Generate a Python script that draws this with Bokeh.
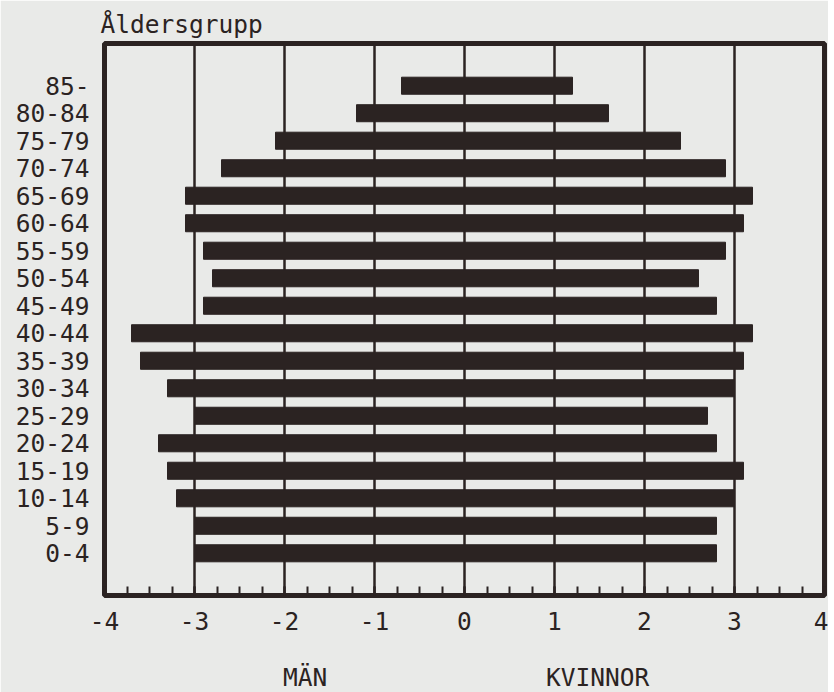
from bokeh.plotting import figure
from bokeh.models import FactorRange, FixedTicker, LinearAxis, Range1d
from bokeh.embed import file_html
from bokeh.resources import INLINE

ages = ["0-4", "5-9", "10-14", "15-19", "20-24", "25-29", "30-34", "35-39", "40-44",
        "45-49", "50-54", "55-59", "60-64", "65-69", "70-74", "75-79", "80-84", "85-"]
men = [3.0, 3.0, 3.2, 3.3, 3.4, 3.0, 3.3, 3.6, 3.7, 2.9, 2.8, 2.9, 3.1, 3.1, 2.7, 2.1, 1.2, 0.7]
women = [2.8, 2.8, 3.0, 3.1, 2.8, 2.7, 3.0, 3.1, 3.2, 2.8, 2.6, 2.9, 3.1, 3.2, 2.9, 2.4, 1.6, 1.2]
x_ticks = [-4, -3, -2, -1, 0, 1, 2, 3, 4]
x_tick_labels = ["-4", "-3", "-2", "-1", "0", "1", "2", "3", "4"]
sex_labels = {-1.77: "MÄN", 1.48: "KVINNOR"}
title_text = "Åldersgrupp"

INK = "#2b2322"
PAPER = "#e9eae8"
FONT = "DejaVu Sans Mono"
FS = "24.5px"

p = figure(
    y_range=FactorRange(factors=ages, range_padding=1.035, range_padding_units="absolute"),
    x_range=Range1d(-4, 4),
    frame_width=720, frame_height=552,
    min_border_left=104, min_border_right=4, min_border_top=43, min_border_bottom=88,
    output_backend="svg", toolbar_location=None,
    background_fill_color=PAPER, border_fill_color=PAPER,
    title=title_text,
)

p.title.text_font = FONT
p.title.text_font_size = FS
p.title.text_font_style = "normal"
p.title.text_color = INK
p.title.align = "left"
p.title.offset = -4

p.hbar(y=ages, left=[-m for m in men], right=0, height=0.62, color=INK)
p.hbar(y=ages, left=0, right=women, height=0.62, color=INK)

p.outline_line_color = INK
p.outline_line_width = 5
p.outline_line_alpha = 1.0

p.ygrid.grid_line_color = None
p.xgrid.ticker = FixedTicker(ticks=x_ticks)
p.xgrid.grid_line_color = INK
p.xgrid.grid_line_width = 2.5
p.xgrid.level = "underlay"

xa = p.xaxis[0]
xa.ticker = FixedTicker(ticks=x_ticks, minor_ticks=[t / 4 for t in range(-16, 17)])
xa.major_label_overrides = dict(zip(x_ticks, x_tick_labels))
xa.axis_line_color = None
xa.major_tick_in = 9
xa.major_tick_out = 0
xa.minor_tick_in = 9
xa.minor_tick_out = 0
xa.major_tick_line_color = INK
xa.minor_tick_line_color = INK
xa.major_tick_line_width = 2
xa.minor_tick_line_width = 2
xa.major_label_text_font = FONT
xa.major_label_text_font_size = FS
xa.major_label_text_color = INK
xa.major_label_standoff = 16

ya = p.yaxis[0]
ya.axis_line_color = None
ya.major_tick_line_color = None
ya.minor_tick_line_color = None
ya.major_label_text_font = FONT
ya.major_label_text_font_size = FS
ya.major_label_text_color = INK
ya.major_label_standoff = 9

sa = LinearAxis(ticker=FixedTicker(ticks=list(sex_labels.keys())),
                major_label_overrides=sex_labels)
sa.axis_line_color = None
sa.major_tick_line_color = None
sa.minor_tick_line_color = None
sa.major_label_text_font = FONT
sa.major_label_text_font_size = FS
sa.major_label_text_color = INK
sa.major_label_standoff = 24
p.add_layout(sa, "below")

open("out.html", "w").write(file_html(p, INLINE))
